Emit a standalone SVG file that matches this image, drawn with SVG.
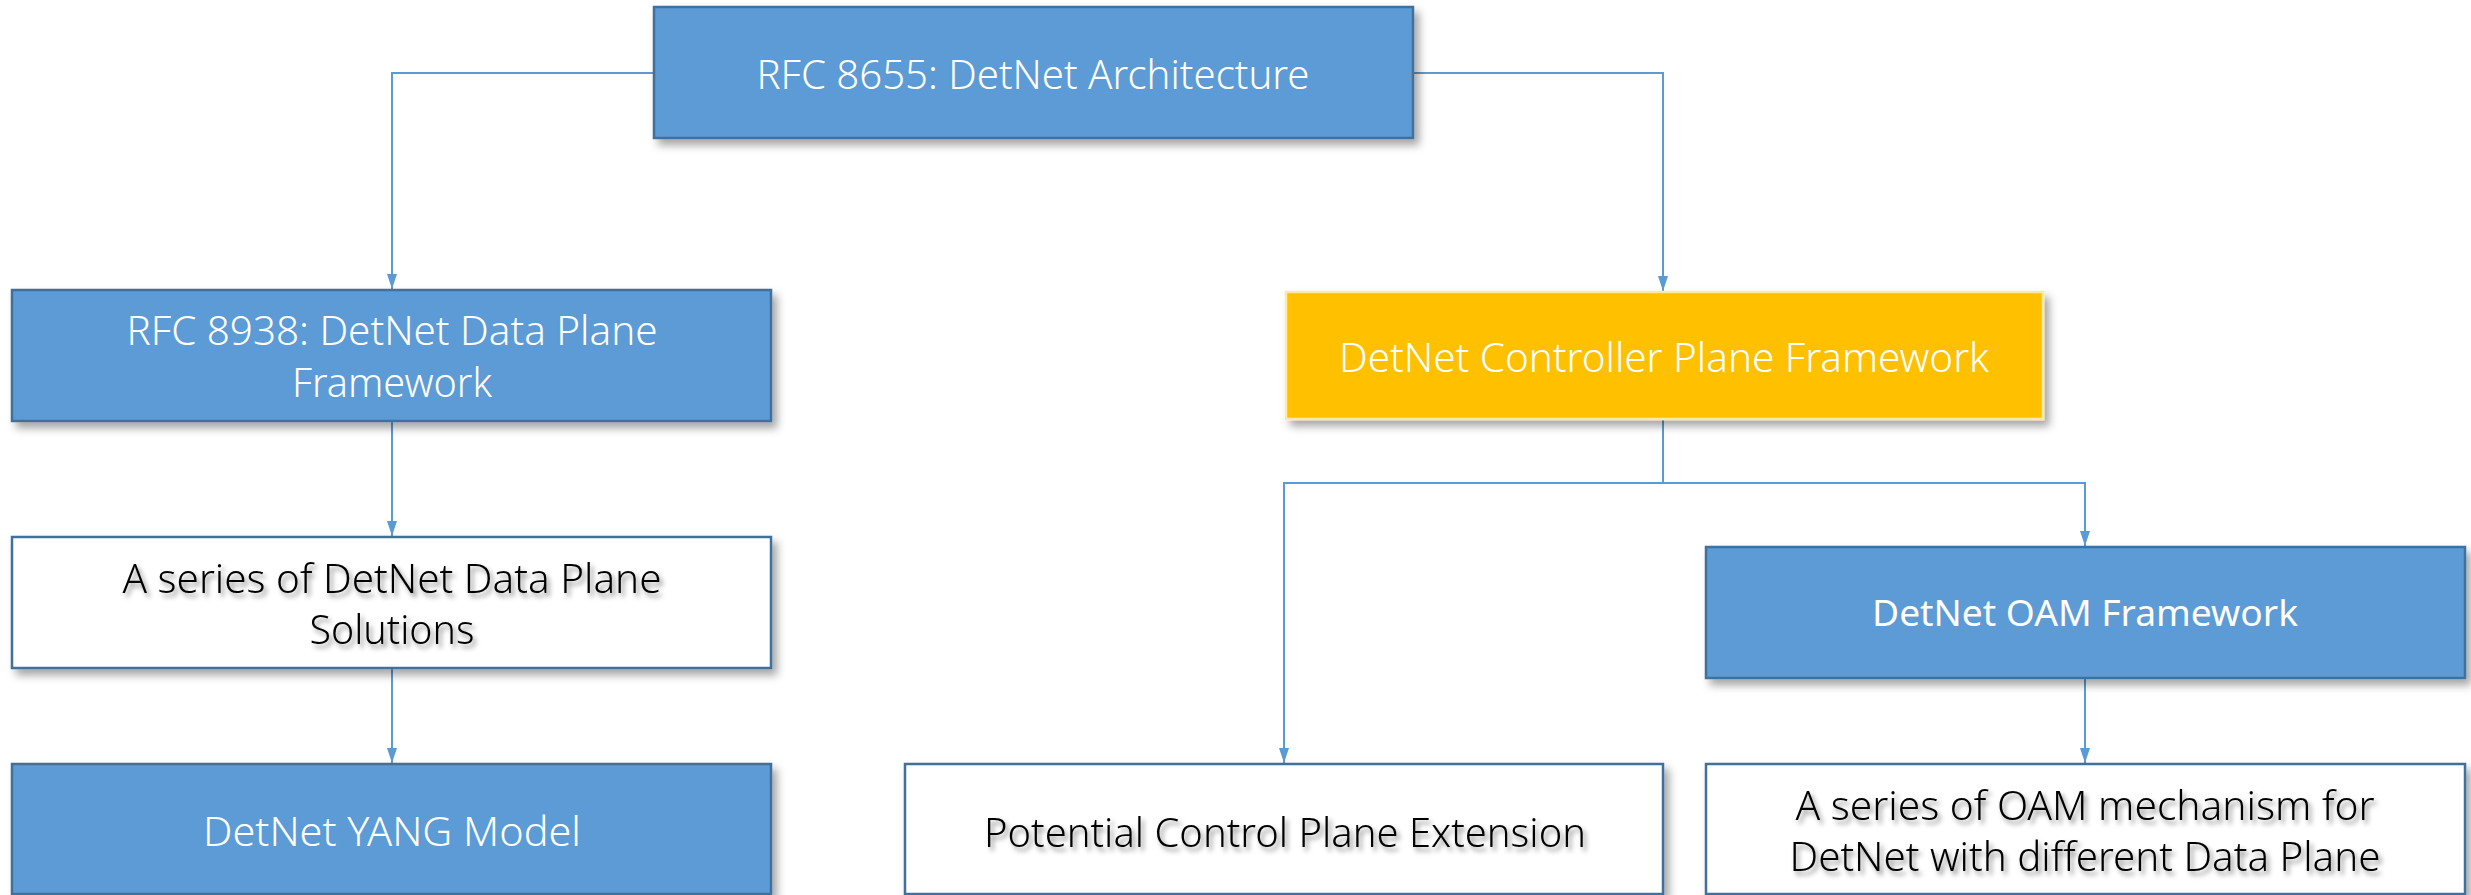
<svg xmlns="http://www.w3.org/2000/svg" width="2471" height="895" viewBox="0 0 2471 895">
<style>
.box{stroke-width:2.5}
.blue{fill:#5B9BD5;stroke:#41719C}
.yellow{fill:#FFC000;stroke:#FFE9A8}
.white{fill:#FFFFFF;stroke:#41719C}
text{font-family:"Noto Sans","Open Sans","Liberation Sans",sans-serif;font-size:40px;font-weight:300;text-anchor:middle}
.lt{fill:#FFFFFF}
.dk{fill:#000000;filter:url(#tshadow)}
.conn{fill:none;stroke:#5B9BD5;stroke-width:2}
</style>
<defs>
<filter id="shadow" x="-5%" y="-10%" width="115%" height="130%">
<feDropShadow dx="5" dy="6" stdDeviation="4" flood-color="#000000" flood-opacity="0.35"/>
</filter>
<filter id="tshadow" x="-5%" y="-30%" width="115%" height="170%">
<feDropShadow dx="3" dy="4" stdDeviation="2.5" flood-color="#000000" flood-opacity="0.45"/>
</filter>
<marker id="arrow" viewBox="0 0 15 10" markerWidth="15" markerHeight="10" refX="15" refY="5" orient="auto" markerUnits="userSpaceOnUse">
<path d="M0,0 L15,5 L0,10 z" fill="#5B9BD5"/>
</marker>
</defs>
<rect width="2471" height="895" fill="#FFFFFF"/>
<g id="connectors">
<path class="conn" d="M654,73 H392 V289" marker-end="url(#arrow)"/>
<path class="conn" d="M1413,73 H1663 V291" marker-end="url(#arrow)"/>
<path class="conn" d="M392,421 V536" marker-end="url(#arrow)"/>
<path class="conn" d="M392,668 V763" marker-end="url(#arrow)"/>
<path class="conn" d="M1663,419 V483 H1284 V763" marker-end="url(#arrow)"/>
<path class="conn" d="M1663,483 H2085 V546" marker-end="url(#arrow)"/>
<path class="conn" d="M2085,678 V763" marker-end="url(#arrow)"/>
</g>
<g id="rfc8655">
<rect class="box blue" x="654" y="7" width="759" height="131" filter="url(#shadow)"/>
<text class="lt" x="1033" y="89" textLength="553" lengthAdjust="spacingAndGlyphs">RFC 8655: DetNet Architecture</text>
</g>
<g id="rfc8938">
<rect class="box blue" x="12" y="290" width="759" height="131" filter="url(#shadow)"/>
<text class="lt" x="392" y="345" textLength="531" lengthAdjust="spacingAndGlyphs">RFC 8938: DetNet Data Plane</text>
<text class="lt" x="392" y="397" textLength="200" lengthAdjust="spacingAndGlyphs">Framework</text>
</g>
<g id="controller">
<rect class="box yellow" x="1286" y="292" width="757" height="127" filter="url(#shadow)"/>
<text class="lt" x="1664" y="372" textLength="650" lengthAdjust="spacingAndGlyphs">DetNet Controller Plane Framework</text>
</g>
<g id="solutions">
<rect class="box white" x="12" y="537" width="759" height="131" filter="url(#shadow)"/>
<text class="dk" x="392" y="593" textLength="539" lengthAdjust="spacingAndGlyphs">A series of DetNet Data Plane</text>
<text class="dk" x="392" y="644" textLength="165" lengthAdjust="spacingAndGlyphs">Solutions</text>
</g>
<g id="yang">
<rect class="box blue" x="12" y="764" width="759" height="130" filter="url(#shadow)"/>
<text class="lt" x="392" y="846" textLength="378" lengthAdjust="spacingAndGlyphs">DetNet YANG Model</text>
</g>
<g id="oam-framework">
<rect class="box blue" x="1706" y="547" width="759" height="131" filter="url(#shadow)"/>
<text class="lt" x="2085" y="626" style="font-size:37px;font-weight:400" textLength="426" lengthAdjust="spacingAndGlyphs">DetNet OAM Framework</text>
</g>
<g id="potential">
<rect class="box white" x="905" y="764" width="758" height="130" filter="url(#shadow)"/>
<text class="dk" x="1285" y="847" textLength="602" lengthAdjust="spacingAndGlyphs">Potential Control Plane Extension</text>
</g>
<g id="oam-mechanism">
<rect class="box white" x="1706" y="764" width="759" height="130" filter="url(#shadow)"/>
<text class="dk" x="2085" y="820" textLength="579" lengthAdjust="spacingAndGlyphs">A series of OAM mechanism for</text>
<text class="dk" x="2085" y="871" textLength="591" lengthAdjust="spacingAndGlyphs">DetNet with different Data Plane</text>
</g>
</svg>
